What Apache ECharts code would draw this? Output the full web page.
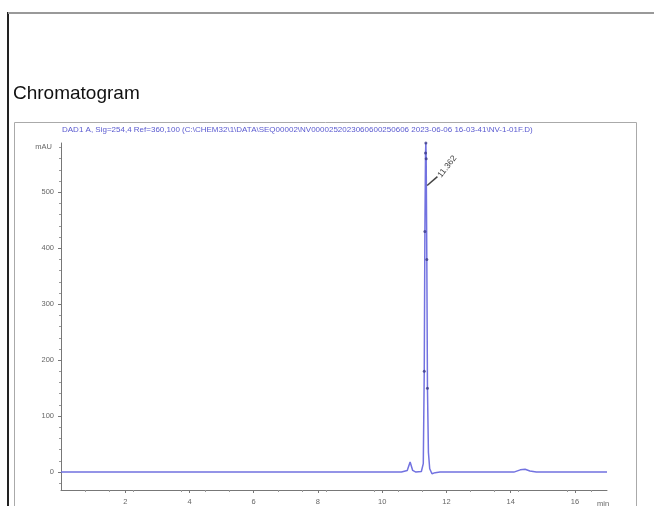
<!DOCTYPE html>
<html><head><meta charset="utf-8">
<script src="https://cdn.jsdelivr.net/npm/echarts@6/dist/echarts.min.js"></script>
<style>html,body{margin:0;padding:0;background:#fff}#c{width:654px;height:506px}</style>
</head><body><div id="c"></div>
<script>
// Data (time in min, signal in mAU)
const signalTime  = [0, 2, 4, 6, 8, 10, 10.6, 10.78, 10.87, 10.95, 11.05, 11.22, 11.28, 11.31, 11.33, 11.35, 11.36, 11.37, 11.39, 11.41, 11.44, 11.48, 11.55, 11.65, 11.8, 13, 14.1, 14.3, 14.45, 14.6, 14.8, 16, 17];
const signalValue = [0, 0, 0, 0, 0, 0, 0, 3, 18, 3, 0, 1, 15, 180, 430, 570, 588, 560, 380, 150, 35, 6, -3, -1, 0, 0, 0, 4, 5, 2, 0, 0, 0];
const peakLabel = "11.362";
const yTicks = [0, 100, 200, 300, 400, 500];
const xTicks = [2, 4, 6, 8, 10, 12, 14, 16];
const signalTitle = "DAD1 A, Sig=254,4 Ref=360,100 (C:\\CHEM32\\1\\DATA\\SEQ00002\\NV0000252023060600250606 2023-06-06 16-03-41\\NV-1-01F.D)";

const chart = echarts.init(document.getElementById('c'));
const pts = signalTime.map((t, i) => [t, signalValue[i]]);
const peakPts = pts.filter(p => p[0] >= 11.30 && p[0] <= 11.42);

chart.setOption({
  animation: false,
  title: {
    text: 'Chromatogram', left: 8, top: 79,
    textStyle: {fontFamily: 'Liberation Sans', fontSize: 19, fontWeight: 'normal', color: '#111'}
  },
  graphic: [
    {type: 'line', shape: {x1: 8, y1: 12, x2: 8, y2: 506}, style: {stroke: '#222', lineWidth: 2}},
    {type: 'line', shape: {x1: 8, y1: 13, x2: 654, y2: 13}, style: {stroke: '#999', lineWidth: 2}},
    {type: 'rect', shape: {x: 14.5, y: 122.5, width: 622, height: 400}, style: {fill: 'none', stroke: '#aaa', lineWidth: 1}},
    {type: 'text', left: 62, top: 126, style: {text: signalTitle, fill: '#5a5ad0', font: '8px "Liberation Sans"'}}
  ],
  grid: {left: 61, right: 47, top: 143, bottom: 16, outerBoundsMode: 'none', containLabel: false},
  xAxis: {
    type: 'value', min: 0, max: 17,
    name: 'min', nameLocation: 'end', nameGap: -10,
    nameTextStyle: {color: '#666', fontSize: 7.5, fontFamily: 'Liberation Sans', verticalAlign: 'top', padding: [10, 0, 0, 0]},
    axisLine: {show: true, onZero: false, lineStyle: {color: '#777', width: 1}},
    axisTick: {show: true, length: 3, inside: false, customValues: xTicks, lineStyle: {color: '#777'}},
    minorTick: {show: true, splitNumber: 4, length: 2, lineStyle: {color: '#999'}},
    axisLabel: {customValues: xTicks, color: '#666', fontSize: 7.5, fontFamily: 'Liberation Sans', margin: 8},
    splitLine: {show: false}
  },
  yAxis: {
    type: 'value', min: -32, max: 588,
    name: 'mAU', nameLocation: 'end', nameGap: -8,
    nameTextStyle: {color: '#666', fontSize: 7.5, fontFamily: 'Liberation Sans', align: 'right', padding: [0, 9, 0, 0]},
    axisLine: {show: true, lineStyle: {color: '#777', width: 1}},
    axisTick: {show: true, length: 3, customValues: yTicks, lineStyle: {color: '#777'}},
    minorTick: {show: true, splitNumber: 5, length: 2, lineStyle: {color: '#999'}},
    axisLabel: {customValues: yTicks, color: '#666', fontSize: 7.5, fontFamily: 'Liberation Sans', margin: 7},
    splitLine: {show: false}
  },
  series: [
    {
      type: 'line', data: pts, symbol: 'none', smooth: false,
      lineStyle: {color: '#7272e0', width: 1.5}, z: 2
    },
    {
      type: 'scatter', data: peakPts, symbol: 'circle', symbolSize: 3,
      itemStyle: {color: '#3a3a88'}, z: 3
    },
    {
      type: 'line', data: [[11.40, 512], [11.72, 528]], symbol: 'none',
      lineStyle: {color: '#444', width: 1.5}, z: 4,
      endLabel: {show: true, formatter: peakLabel, rotate: 52, color: '#444', fontSize: 8.5, fontFamily: 'Liberation Sans', distance: 2}
    }
  ]
});
</script></body></html>
